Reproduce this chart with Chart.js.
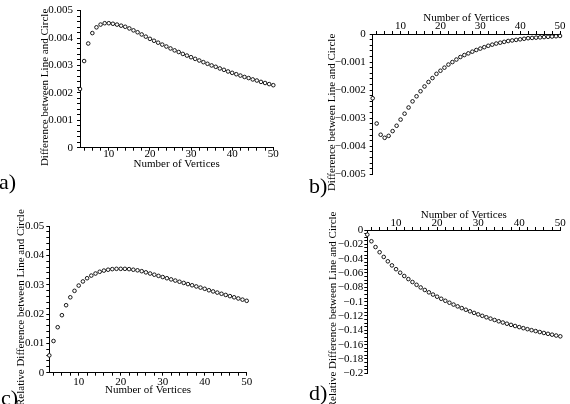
<!DOCTYPE html>
<html>
<head>
<meta charset="utf-8">
<script src="https://cdn.jsdelivr.net/npm/chart.js@4.4.1/dist/chart.umd.min.js"></script>
<style>
  body { margin: 0; background: #fff; }
  #wrap { position: relative; width: 570px; height: 404px; overflow: hidden; background: #fff; }
  #wrap canvas { position: absolute; left: 0; top: 0; }
  .tag { position: absolute; font-family: "Liberation Serif", serif; font-size: 22px; line-height: 22px; color: #000; }
</style>
</head>
<body>
<div id="wrap">
  <canvas id="panelA" width="570" height="404"></canvas>
  <canvas id="panelB" width="570" height="404"></canvas>
  <canvas id="panelC" width="570" height="404"></canvas>
  <canvas id="panelD" width="570" height="404"></canvas>
  <div class="tag" style="left:-1px;top:171px">a)</div>
  <div class="tag" style="left:309px;top:175px">b)</div>
  <div class="tag" style="left:1px;top:387px">c)</div>
  <div class="tag" style="left:309px;top:382px">d)</div>
</div>
<script>
// number of vertices (x values, shared by all four panels)
const vertices = [3, 4, 5, 6, 7, 8, 9, 10, 11, 12, 13, 14, 15, 16, 17, 18, 19, 20,
  21, 22, 23, 24, 25, 26, 27, 28, 29, 30, 31, 32, 33, 34, 35, 36, 37, 38, 39, 40,
  41, 42, 43, 44, 45, 46, 47, 48, 49, 50];

// a) difference between line and circle
const diffA = [0.00214, 0.00316, 0.00380, 0.00418, 0.00439, 0.00449, 0.00454, 0.00454,
  0.00452, 0.00449, 0.00445, 0.00441, 0.00435, 0.00428, 0.00421, 0.00413, 0.00405, 0.00397,
  0.00390, 0.00383, 0.00376, 0.00369, 0.00362, 0.00355, 0.00349, 0.00342, 0.00336, 0.00330,
  0.00324, 0.00318, 0.00312, 0.00306, 0.00300, 0.00295, 0.00289, 0.00284, 0.00278, 0.00273,
  0.00268, 0.00263, 0.00258, 0.00254, 0.00249, 0.00245, 0.00240, 0.00236, 0.00232, 0.00228];

// b) difference between line and circle (second case)
const diffB = [-0.00229, -0.00319, -0.00359, -0.00370, -0.00363, -0.00346, -0.00327, -0.00305,
  -0.00284, -0.00262, -0.00240, -0.00222, -0.00204, -0.00187, -0.00171, -0.00157, -0.00142, -0.00131,
  -0.00120, -0.00109, -0.00100, -0.00091, -0.00082, -0.00075, -0.00069, -0.00063, -0.00057, -0.00052,
  -0.00047, -0.00042, -0.00038, -0.00034, -0.00031, -0.00028, -0.00025, -0.00023, -0.00021, -0.00019,
  -0.00017, -0.00015, -0.00014, -0.00013, -0.00012, -0.00011, -0.00010, -0.00009, -0.00008, -0.00007];

// c) relative difference
const relC = [0.0059, 0.0108, 0.0155, 0.0196, 0.0230, 0.0257, 0.0279, 0.0297,
  0.0311, 0.0322, 0.0331, 0.0338, 0.0344, 0.0348, 0.0351, 0.0353, 0.0354, 0.0354,
  0.0354, 0.0353, 0.0351, 0.0349, 0.0346, 0.0342, 0.0338, 0.0334, 0.0330, 0.0326,
  0.0322, 0.0318, 0.0314, 0.0310, 0.0306, 0.0302, 0.0298, 0.0294, 0.0290, 0.0286,
  0.0281, 0.0277, 0.0273, 0.0269, 0.0265, 0.0261, 0.0257, 0.0253, 0.0249, 0.0245];

// d) relative difference (second case)
const relD = [-0.0065, -0.0157, -0.0238, -0.0310, -0.0376, -0.0437, -0.0494, -0.0547,
  -0.0596, -0.0642, -0.0685, -0.0726, -0.0765, -0.0802, -0.0837, -0.0870, -0.0901, -0.0931,
  -0.0960, -0.0988, -0.1015, -0.1041, -0.1066, -0.1090, -0.1113, -0.1135, -0.1157, -0.1178,
  -0.1198, -0.1218, -0.1237, -0.1256, -0.1274, -0.1291, -0.1308, -0.1324, -0.1340, -0.1355,
  -0.1370, -0.1384, -0.1398, -0.1411, -0.1424, -0.1437, -0.1449, -0.1461, -0.1473, -0.1484];

// tick labels
const xMajor = [10, 20, 30, 40, 50];
const yValsA = [0, 0.001, 0.002, 0.003, 0.004, 0.005];
const yLabsA = ['0', '0.001', '0.002', '0.003', '0.004', '0.005'];
const yValsB = [0, -0.001, -0.002, -0.003, -0.004, -0.005];
const yLabsB = ['0', '\u22120.001', '\u22120.002', '\u22120.003', '\u22120.004', '\u22120.005'];
const yValsC = [0, 0.01, 0.02, 0.03, 0.04, 0.05];
const yLabsC = ['0', '0.01', '0.02', '0.03', '0.04', '0.05'];
const yValsD = [0, -0.02, -0.04, -0.06, -0.08, -0.1, -0.12, -0.14, -0.16, -0.18, -0.2];
const yLabsD = ['0', '\u22120.02', '\u22120.04', '\u22120.06', '\u22120.08', '\u22120.1',
  '\u22120.12', '\u22120.14', '\u22120.16', '\u22120.18', '\u22120.2'];

Chart.defaults.font.family = '"Liberation Serif", "Times New Roman", serif';
Chart.defaults.font.size = 11;
Chart.defaults.color = '#000';

// trailing spaces nudge the centred y titles a little lower, like the original
const titleNudge = '      ';

function minorTicks(from, to, step) {
  const out = [];
  const n = Math.round((to - from) / step);
  for (let i = 0; i <= n; i++) out.push(from + i * step);
  return out;
}

function labelFor(v, vals, labs) {
  const i = vals.findIndex(t => Math.abs(t - v) < 1e-9);
  return i >= 0 ? labs[i] : '';
}

function makePanel(id, yData, p) {
  const xTicks = minorTicks(4, 50, 2);
  const yTicks = minorTicks(p.yMin, p.yMax, p.yStep);
  new Chart(document.getElementById(id), {
    type: 'scatter',
    data: {
      datasets: [{
        data: vertices.map((n, i) => ({ x: n, y: yData[i] })),
        pointRadius: 1.8,
        pointBorderWidth: 0.9,
        pointBorderColor: '#000',
        pointBackgroundColor: '#fff',
        clip: false
      }]
    },
    options: {
      responsive: false,
      animation: false,
      devicePixelRatio: 1,
      layout: { autoPadding: false, padding: p.pad },
      plugins: { legend: { display: false }, tooltip: { enabled: false } },
      scales: {
        x: {
          type: 'linear',
          position: p.xPos,
          min: 3,
          max: 50,
          afterFit: s => { s.height = p.xH; },
          afterBuildTicks: s => { s.ticks = xTicks.map(v => ({ value: v })); },
          ticks: {
            autoSkip: false,
            maxRotation: 0,
            padding: p.xPad,
            callback: v => (xMajor.includes(v) ? String(v) : '')
          },
          grid: { drawOnChartArea: false, tickLength: 3, tickColor: '#000' },
          border: { color: '#000', width: 1 },
          title: { display: true, text: 'Number of Vertices', padding: 0, font: { size: 11 } }
        },
        y: {
          type: 'linear',
          position: 'left',
          min: p.yMin,
          max: p.yMax,
          afterFit: s => { s.width = p.yW; },
          afterBuildTicks: s => { s.ticks = yTicks.map(v => ({ value: v })); },
          ticks: {
            autoSkip: false,
            padding: p.yPad,
            callback: v => labelFor(v, p.yVals, p.yLabs)
          },
          grid: { drawOnChartArea: false, tickLength: 3, tickColor: '#000' },
          border: { color: '#000', width: 1 },
          title: { display: true, text: p.yTitle + titleNudge, padding: 0, font: { size: 11 } }
        }
      }
    }
  });
}

makePanel('panelA', diffA, {
  pad: { left: 39, right: 296.7, top: 5, bottom: 233.1 },
  xPos: 'bottom', xH: 23.2, xPad: -3, yW: 41, yPad: 4,
  yMin: 0, yMax: 0.005, yStep: 0.0002, yVals: yValsA, yLabs: yLabsA,
  yTitle: 'Difference between Line and Circle'
});

makePanel('panelB', diffB, {
  pad: { left: 325.1, right: 10, top: 11.9, bottom: 229.7 },
  xPos: 'top', xH: 22.1, xPad: -1.4, yW: 47.6, yPad: 4,
  yMin: -0.005, yMax: 0, yStep: 0.0002, yVals: yValsB, yLabs: yLabsB,
  yTitle: 'Difference between Line and Circle'
});

makePanel('panelC', relC, {
  pad: { left: 14.1, right: 323.3, top: 226, bottom: 7.4 },
  xPos: 'bottom', xH: 23.9, xPad: -0.6, yW: 35.2, yPad: 2,
  yMin: 0, yMax: 0.05, yStep: 0.002, yVals: yValsC, yLabs: yLabsC,
  yTitle: 'Relative Difference between Line and Circle'
});

makePanel('panelD', relD, {
  pad: { left: 326.1, right: 9.7, top: 208.7, bottom: 30.7 },
  xPos: 'top', xH: 21.3, xPad: -2.4, yW: 41.2, yPad: 1,
  yMin: -0.2, yMax: 0, yStep: 0.005, yVals: yValsD, yLabs: yLabsD,
  yTitle: 'Relative Difference between Line and Circle'
});
</script>
</body>
</html>
